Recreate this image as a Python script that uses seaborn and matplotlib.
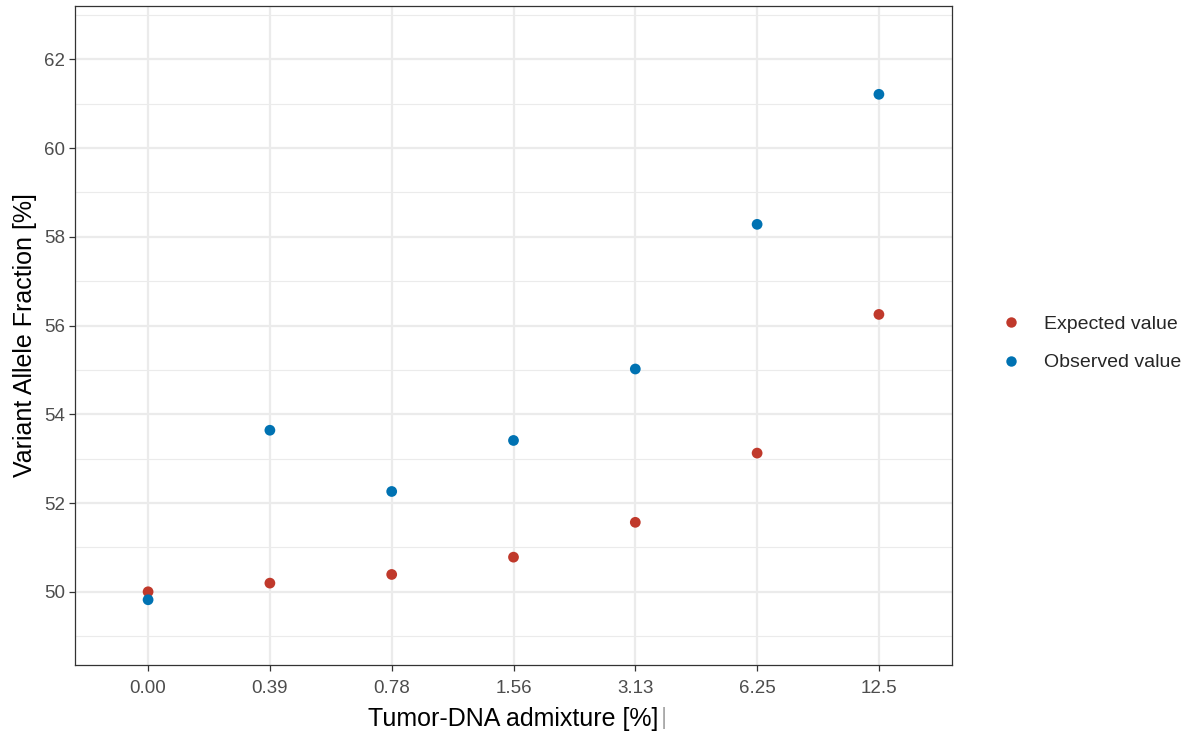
import matplotlib
matplotlib.use("Agg")
import matplotlib.pyplot as plt
import seaborn as sns
import pandas as pd
from matplotlib.ticker import MultipleLocator
from matplotlib.lines import Line2D

admixture = ["0.00", "0.39", "0.78", "1.56", "3.13", "6.25", "12.5"]
expected = [50.0, 50.195, 50.39, 50.78, 51.565, 53.125, 56.25]
observed = [49.82, 53.64, 52.26, 53.41, 55.02, 58.28, 61.21]
series_names = ["Expected value", "Observed value"]
series_colors = ["#C0392B", "#0072B2"]

df = pd.DataFrame({
    "admixture": admixture * 2,
    "vaf": expected + observed,
    "type": [series_names[0]] * len(admixture) + [series_names[1]] * len(admixture),
})

sns.set_theme(style="white")
plt.rcParams["font.family"] = ["Liberation Sans", "DejaVu Sans"]

fig = plt.figure(figsize=(11.9, 7.31), dpi=100)
ax = fig.add_axes([75 / 1190, 1 - 665 / 731, (952 - 75) / 1190, (665 - 6) / 731])

ax.set_xlim(-0.6, 6.6)
ax.set_ylim(48.35, 63.2)
ax.yaxis.set_major_locator(MultipleLocator(2))
ax.yaxis.set_minor_locator(MultipleLocator(1))
ax.set_axisbelow(True)
ax.grid(True, which="major", color="#EBEBEB", linewidth=1.6)
ax.grid(True, which="minor", axis="y", color="#EBEBEB", linewidth=0.8)

sns.scatterplot(data=df, x="admixture", y="vaf", hue="type",
                palette=dict(zip(series_names, series_colors)),
                s=60, edgecolor="none", linewidth=0, ax=ax, legend=False, zorder=3)

ax.set_xlim(-0.6, 6.6)
for sp in ax.spines.values():
    sp.set_color("#333333")
    sp.set_linewidth(0.9)
ax.tick_params(axis="both", which="major", bottom=True, left=True, length=4, width=0.9,
               color="#333333", labelsize=13.5, labelcolor="#4D4D4D")
ax.tick_params(axis="x", which="major", pad=7)
ax.tick_params(axis="y", which="major", pad=3)
ax.tick_params(axis="y", which="minor", left=False, length=0)
ax.set_xlabel("Tumor-DNA admixture [%]", fontsize=18, color="black", labelpad=7)
ax.set_ylabel("Variant Allele Fraction [%]", fontsize=18, color="black", labelpad=5)
fig.text(664 / 1190, 1 - 718 / 731, "|", fontsize=17, color="#AAAAAA", ha="center", va="center")

handles = [Line2D([0], [0], marker="o", linestyle="none", markersize=7.5,
                  markerfacecolor=c, markeredgecolor="none") for c in series_colors]
fig.legend(handles, series_names, loc="center left", bbox_to_anchor=(997 / 1190, 1 - 343.5 / 731),
           frameon=False, fontsize=14, handletextpad=1.0, labelspacing=1.05, borderpad=0,
           handlelength=1.4, borderaxespad=0)

fig.savefig("out.png", dpi=100)
